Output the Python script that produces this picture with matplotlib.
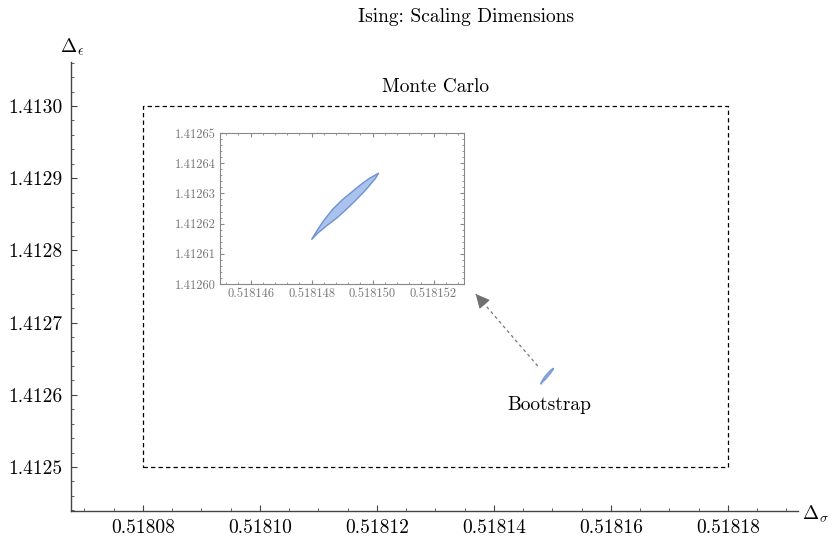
import matplotlib
matplotlib.use('Agg')
import matplotlib.pyplot as plt
import numpy as np
from matplotlib.ticker import MultipleLocator, FormatStrFormatter

plt.rcParams['font.family'] = ['cmr10', 'DejaVu Serif']
plt.rcParams['mathtext.fontset'] = 'cm'
plt.rcParams['axes.formatter.use_mathtext'] = True

# bootstrap allowed region (contour, upper edge then lower edge)
boot_x = [0.5181480, 0.5181482, 0.5181484, 0.5181487, 0.5181490, 0.5181493,
          0.5181496, 0.5181499, 0.5181502,
          0.5181501, 0.5181499, 0.5181497, 0.5181494, 0.5181491, 0.5181488,
          0.5181485, 0.5181482, 0.5181480]
boot_y = [1.4126147, 1.4126180, 1.4126210, 1.4126248, 1.4126278, 1.4126303,
          1.4126328, 1.4126350, 1.4126367,
          1.4126350, 1.4126326, 1.4126303, 1.4126272, 1.4126243, 1.4126216,
          1.4126193, 1.4126168, 1.4126147]

# Monte Carlo box
mc_x = [0.51808, 0.51818]
mc_y = [1.4125, 1.4130]

# annotations
mc_label = (0.51813, 1.413026)
boot_label = (0.5181494, 1.4125859)
arrow_tail = (0.5181475, 1.4126399)
arrow_head = (0.5181369, 1.4127396)

W, H = 830, 539
fig = plt.figure(figsize=(W / 100, H / 100), dpi=100)
ax = fig.add_axes([71 / W, (H - 511) / H, (798 - 71) / W, (511 - 62) / H])

axis_col = '#444444'
for s in ['top', 'right']:
    ax.spines[s].set_visible(False)
for s in ['left', 'bottom']:
    ax.spines[s].set_color(axis_col)
    ax.spines[s].set_linewidth(1.0)

ax.set_xlim(0.5180677, 0.5181920)
ax.set_ylim(1.412439, 1.413061)
ax.xaxis.set_major_locator(MultipleLocator(0.00002))
ax.xaxis.set_minor_locator(MultipleLocator(0.000005))
ax.yaxis.set_major_locator(MultipleLocator(0.0001))
ax.yaxis.set_minor_locator(MultipleLocator(0.00002))
ax.xaxis.set_major_formatter(FormatStrFormatter('%.5f'))
ax.yaxis.set_major_formatter(FormatStrFormatter('%.4f'))
ax.tick_params(which='both', direction='in', color=axis_col, labelsize=14, pad=6)
ax.tick_params(which='major', length=4)
ax.tick_params(which='minor', length=2.5)

# Monte Carlo rectangle
ax.plot([mc_x[0], mc_x[1], mc_x[1], mc_x[0], mc_x[0]],
        [mc_y[0], mc_y[0], mc_y[1], mc_y[1], mc_y[0]],
        color='black', lw=0.9, ls=(0, (3.5, 2.5)))
ax.text(*mc_label, 'Monte Carlo', ha='center', va='center', fontsize=14)

# bootstrap region (tiny in main view)
ax.fill(boot_x, boot_y, facecolor='#a9c3ee', edgecolor='#7f9dd6', lw=1.2)
ax.text(*boot_label, 'Bootstrap', ha='center', va='center', fontsize=14)

# dashed arrow toward the inset
ax.plot([arrow_tail[0], arrow_head[0]], [arrow_tail[1], arrow_head[1]],
        color='#777777', lw=0.9, ls=(0, (2.5, 2.5)))
ax.annotate('', xy=arrow_head,
            xytext=(arrow_head[0] + (arrow_tail[0] - arrow_head[0]) * 0.12,
                    arrow_head[1] + (arrow_tail[1] - arrow_head[1]) * 0.12),
            arrowprops=dict(arrowstyle='-|>,head_length=0.85,head_width=0.42',
                            color='#707070', lw=0.9, shrinkA=0, shrinkB=0))

fig.text(466 / W, (H - 17) / H, 'Ising: Scaling Dimensions', ha='center', va='center', fontsize=14)
fig.text(72 / W, (H - 47) / H, r'$\Delta_\epsilon$', ha='center', va='center', fontsize=14)
fig.text(815 / W, (H - 514) / H, r'$\Delta_\sigma$', ha='center', va='center', fontsize=14)

# inset zoom
ins = fig.add_axes([220 / W, (H - 284) / H, (464 - 220) / W, (284 - 133) / H])
ins_col = '#888888'
for s in ins.spines.values():
    s.set_color(ins_col)
ins.fill(boot_x, boot_y, facecolor='#a9c3ee', edgecolor='#7191d1', lw=1.0)
ins.set_xlim(0.518145, 0.518153)
ins.set_ylim(1.41260, 1.41265)
ins.xaxis.set_major_locator(MultipleLocator(0.000002))
ins.xaxis.set_minor_locator(MultipleLocator(0.0000004))
ins.yaxis.set_major_locator(MultipleLocator(0.00001))
ins.yaxis.set_minor_locator(MultipleLocator(0.000002))
ins.xaxis.set_major_formatter(FormatStrFormatter('%.6f'))
ins.yaxis.set_major_formatter(FormatStrFormatter('%.5f'))
ins.tick_params(which='both', direction='in', top=True, right=True,
                color=ins_col, labelcolor='#777777', labelsize=9, pad=3)
ins.tick_params(which='major', length=3)
ins.tick_params(which='minor', length=1.5)

fig.savefig('out.png', dpi=100)
